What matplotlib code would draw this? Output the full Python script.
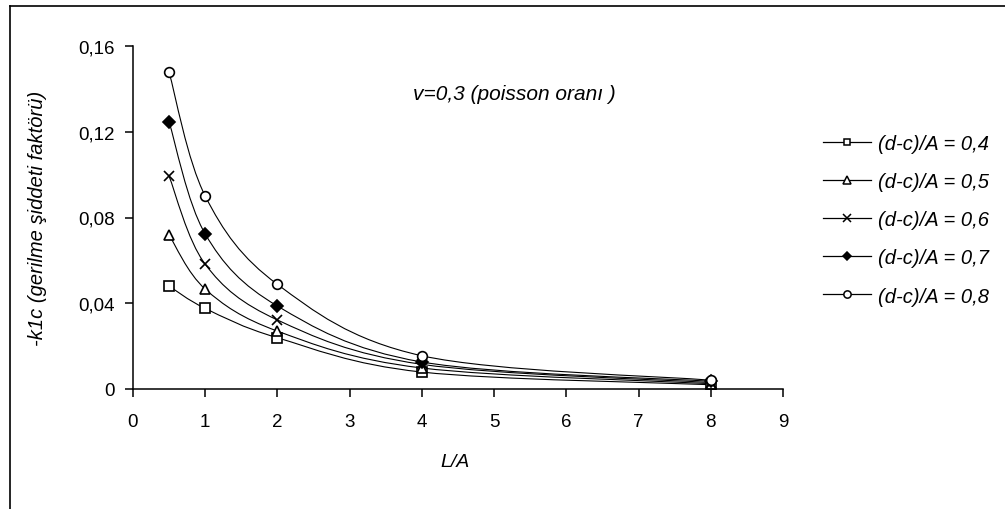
import numpy as np
import matplotlib
matplotlib.use("Agg")
import matplotlib.pyplot as plt
from matplotlib.path import Path
from matplotlib.patches import PathPatch
from matplotlib.lines import Line2D

plt.rcParams['font.family'] = ['Liberation Sans', 'DejaVu Sans']

# veriler
la = [0.5, 1, 2, 4, 8]
k_04 = [0.048, 0.0376, 0.0239, 0.0079, 0.0020]
k_05 = [0.0718, 0.0466, 0.0270, 0.0098, 0.0025]
k_06 = [0.0992, 0.0582, 0.0322, 0.0115, 0.0030]
k_07 = [0.1245, 0.0723, 0.0387, 0.0126, 0.0036]
k_08 = [0.1477, 0.0900, 0.0488, 0.0155, 0.0041]
labels = ["(d-c)/A = 0,4", "(d-c)/A = 0,5", "(d-c)/A = 0,6",
          "(d-c)/A = 0,7", "(d-c)/A = 0,8"]
yticks = [0, 0.04, 0.08, 0.12, 0.16]
ytick_labels = ["0", "0,04", "0,08", "0,12", "0,16"]
xticks = list(range(0, 10))

series = [k_04, k_05, k_06, k_07, k_08]
markers = [
    dict(marker='s', markersize=6.5, markerfacecolor='white'),
    dict(marker='^', markersize=7, markerfacecolor='white'),
    dict(marker='x', markersize=7.5),
    dict(marker='D', markersize=6, markerfacecolor='black'),
    dict(marker='o', markersize=7, markerfacecolor='white'),
]


# Excel tarzi yumusak egri (Bezier)
def smooth_path(xs, ys):
    pts = np.column_stack([xs, ys]).astype(float)
    n = len(pts)
    verts = [pts[0]]
    codes = [Path.MOVETO]
    for i in range(n - 1):
        p0 = pts[i - 1] if i > 0 else pts[i]
        p1 = pts[i]
        p2 = pts[i + 1]
        p3 = pts[i + 2] if i + 2 < n else pts[i + 1]
        c1 = p1 + (p2 - p0) / 6.0
        c2 = p2 - (p3 - p1) / 6.0
        verts += [c1, c2, p2]
        codes += [Path.CURVE4] * 3
    return Path(verts, codes)


fig = plt.figure(figsize=(10.05, 5.10), dpi=100)
ax = fig.add_axes([133 / 1005, 120 / 510, 650 / 1005, 343 / 510])

handles = []
for ys, mk, lab in zip(series, markers, labels):
    ax.add_patch(PathPatch(smooth_path(la, ys), fill=False,
                           edgecolor='black', lw=0.8))
    ax.plot(la, ys, linestyle='none', color='black',
            markeredgecolor='black', markeredgewidth=1.2, **mk)
    h = Line2D([], [], color='black', lw=0.9, markeredgecolor='black',
               markeredgewidth=1.1, **mk)
    handles.append(h)

ax.set_xlim(0, 9)
ax.set_ylim(0, 0.16)
ax.set_xticks(xticks)
ax.set_yticks(yticks)
ax.set_yticklabels(ytick_labels)
for s in ['top', 'right']:
    ax.spines[s].set_visible(False)
for s in ['left', 'bottom']:
    ax.spines[s].set_linewidth(1.1)
ax.tick_params(axis='y', direction='out', length=6, width=1.1,
               labelsize=13.5, pad=7)
ax.tick_params(axis='x', direction='out', length=6, width=1.1,
               labelsize=13.5, pad=11)

# eksen basliklari ve not
fig.text(455 / 1005, 1 - 463 / 510, "L/A", style='italic', fontsize=14,
         ha='center', va='center')
fig.text(38 / 1005, 1 - 218 / 510, "-k1c (gerilme şiddeti faktörü)",
         style='italic', fontsize=14.5, rotation=90, ha='center', va='center')
fig.text(413 / 1005, 1 - 95 / 510, "v=0,3 (poisson oranı )",
         style='italic', fontsize=15, ha='left', va='center')

leg = fig.legend(handles=handles, labels=labels, loc='upper left',
                 bbox_to_anchor=(823 / 1005, 1 - 135 / 510),
                 frameon=False, borderpad=0, borderaxespad=0,
                 handlelength=2.4, handletextpad=0.35, labelspacing=0.95,
                 markerscale=0.75, prop=dict(style='italic', size=14.5))

# cerceve
fig.add_artist(Line2D([10 / 1005, 10 / 1005], [0, 1 - 7 / 510],
                      transform=fig.transFigure, color='black', lw=1.2))
fig.add_artist(Line2D([10 / 1005, 1], [1 - 7 / 510, 1 - 7 / 510],
                      transform=fig.transFigure, color='black', lw=1.2))

fig.savefig("out.png", dpi=100)
